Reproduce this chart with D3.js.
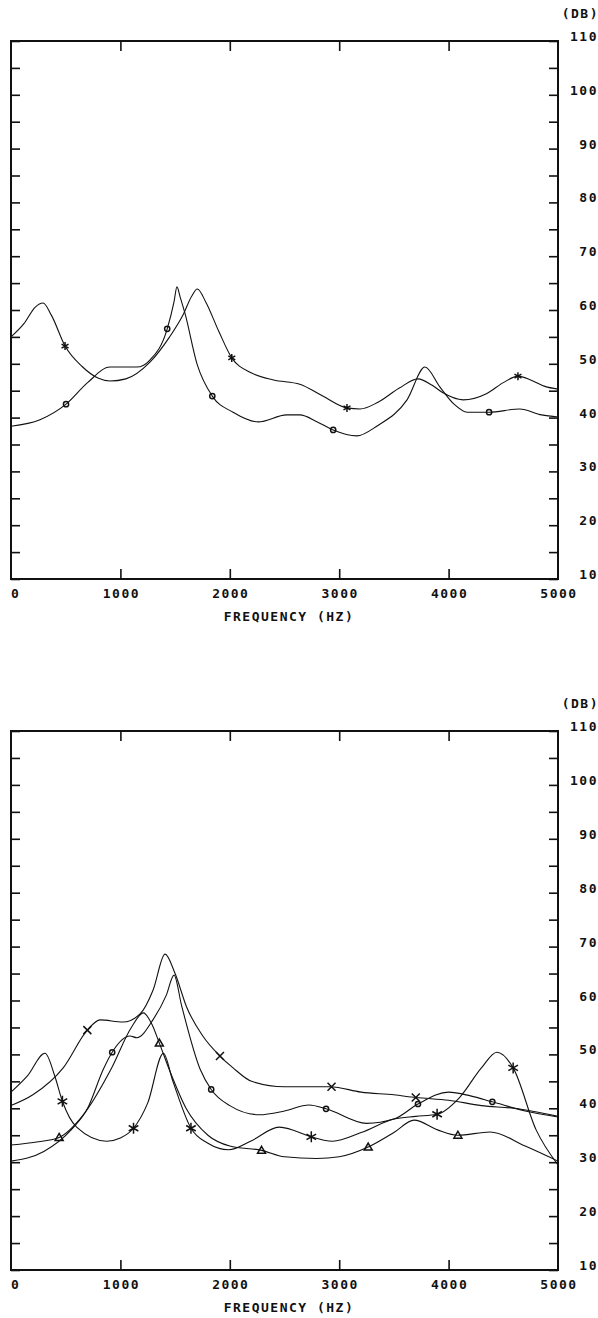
<!DOCTYPE html>
<html>
<head>
<meta charset="utf-8">
<script src="https://cdn.jsdelivr.net/npm/d3@7"></script>
<style>
  body { margin: 0; background: #fff; }
  .lbl { font-family: "DejaVu Sans Mono", monospace; font-weight: bold; font-size: 13px; letter-spacing: 1.5px; fill: #111; }
  .curve { fill: none; stroke: #111; stroke-width: 1.1; }
  .mark { fill: none; stroke: #111; stroke-width: 1.5; }
</style>
</head>
<body>
<div id="chart"></div>
<script>
// axis values
var freqTicks = [0, 1000, 2000, 3000, 4000, 5000];
var dbLabels = [10, 20, 30, 40, 50, 60, 70, 80, 90, 100, 110];

// top panel curves  [frequency, dB]
var topStar = [[0,55],[120,57.5],[220,60.5],[293,61.3],[370,59],[494,53.3],[650,49.5],[800,47.3],[905,46.8],
  [1050,47.2],[1270,50.3],[1450,55],[1573,59.1],[1650,62.5],[1703,63.9],[1780,61.5],[1900,56],[2018,51.1],
  [2200,48.3],[2400,47],[2640,46.2],[2850,44],[3071,41.8],[3190,41.6],[3350,42.8],[3550,45.5],[3720,47.2],
  [3850,46],[3949,44.6],[4132,43.3],[4350,44.5],[4500,46.5],[4634,47.7],[4750,47],[4880,45.8],[5000,45.3]];
var topStarMarks = [[494,53.3],[2018,51.1],[3071,41.8],[4634,47.7]];

var topCircle = [[0,38.4],[265,39.6],[503,42.5],[700,46.5],[905,49.4],[1150,49.4],[1270,50.7],[1428,56.5],
  [1490,61.5],[1517,64.3],[1545,62.5],[1590,59.4],[1700,50],[1840,44],[2030,41],[2260,39.2],[2520,40.5],
  [2640,40.5],[2800,39.2],[2945,37.7],[3160,36.6],[3350,38.5],[3620,43.3],[3784,49.4],[3920,45.7],[4050,42.5],
  [4170,41],[4370,41],[4650,41.6],[4850,40.5],[5000,40.1]];
var topCircleMarks = [[503,42.5],[1428,56.5],[1840,44],[2945,37.7],[4370,41]];

// bottom panel curves
var botCross = [[0,40.5],[200,42.5],[477,47.5],[698,54.5],[814,56.4],[1024,56],[1180,57.5],[1300,62],[1408,68.6],
  [1500,65],[1605,58.8],[1750,53.5],[1910,49.7],[2030,47.5],[2200,45],[2500,44],[2920,44],[3200,43],[3500,42.5],
  [3700,42],[4000,41.5],[4300,40.5],[4600,40],[5000,38.5]];
var botCrossMarks = [[698,54.5],[1910,49.7],[2930,44],[3700,42]];

var botCircle = [[0,30.2],[300,32],[550,36],[700,40],[845,47.3],[925,50.4],[1088,53.4],[1150,53.1],[1300,56.5],
  [1420,61],[1490,64.7],[1560,59],[1728,47.3],[1830,43.5],[2000,40.5],[2270,38.8],[2500,39.5],[2725,40.6],
  [2880,39.9],[3250,37.2],[3500,38],[3720,40.8],[4000,43],[4200,42.3],[4400,41.2],[4700,39.5],[5000,38.4]];
var botCircleMarks = [[925,50.4],[1830,43.5],[2880,39.9],[3720,40.8],[4400,41.2]];

var botTri = [[0,33.2],[250,33.8],[440,34.6],[650,38.5],[915,47.3],[1100,55],[1210,57.7],[1290,55.5],[1356,52.1],
  [1450,47],[1600,40],[1800,35],[2000,33],[2290,32.2],[2500,31],[2795,30.7],[3000,31],[3265,32.8],[3500,35.5],
  [3685,37.8],[3900,36],[4085,35],[4380,35.6],[4700,33],[5000,30.2]];
var botTriMarks = [[440,34.6],[1356,52.1],[2290,32.2],[3265,32.8],[4085,35]];

var botStar = [[0,43],[150,46],[311,50.2],[400,46],[470,41.3],[600,36.5],[875,33.9],[1000,34.5],[1120,36.3],
  [1250,41],[1393,50.2],[1480,45],[1645,36.3],[1800,33.5],[1990,32.3],[2200,34],[2450,36.5],[2600,35.8],
  [2745,34.7],[2940,33.9],[3200,35.5],[3500,38],[3700,38.5],[3895,38.9],[4100,42],[4300,47.5],[4442,50.4],
  [4590,47.5],[4800,36],[5000,29.5]];
var botStarMarks = [[470,41.3],[1120,36.3],[1645,36.3],[2745,34.7],[3895,38.9],[4590,47.5]];

var svg = d3.select("#chart").append("svg")
    .attr("width", 598)
    .attr("height", 1318);

// marker shapes
function drawMark(g, type, cx, cy) {
    if (type == "circle") {
        g.append("circle").attr("class", "mark").attr("cx", cx).attr("cy", cy).attr("r", 2.6);
    } else if (type == "tri") {
        var s = 4;
        g.append("path").attr("class", "mark")
            .attr("d", `M${cx},${cy - s} L${cx + s},${cy + s * 0.75} L${cx - s},${cy + s * 0.75} Z`);
    } else if (type == "cross") {
        var c = 4;
        g.append("path").attr("class", "mark")
            .attr("d", `M${cx - c},${cy - c} L${cx + c},${cy + c} M${cx - c},${cy + c} L${cx + c},${cy - c}`);
    } else {
        var r = type == "bigstar" ? 5.5 : 4;
        var a = r * 0.87, b = r * 0.5;
        g.append("path").attr("class", "mark")
            .attr("d", `M${cx},${cy - r} L${cx},${cy + r} M${cx - a},${cy - b} L${cx + a},${cy + b} M${cx - a},${cy + b} L${cx + a},${cy - b}`);
    }
}

function drawPanel(top, bottom, series) {
    var left = 11, right = 558;
    var x = d3.scaleLinear().domain([0, 5000]).range([left, right]);
    var y = d3.scaleLinear().domain([10, 110]).range([bottom, top]);
    var g = svg.append("g");

    var minorTicks = d3.range(10, 111, 5);

    // inward ticks
    g.append("g").attr("transform", `translate(${left},0)`)
        .call(d3.axisRight(y).tickValues(minorTicks).tickSize(9).tickFormat(""));
    g.append("g").attr("transform", `translate(${right},0)`)
        .call(d3.axisLeft(y).tickValues(minorTicks).tickSize(9).tickFormat(""));
    g.append("g").attr("transform", `translate(0,${top})`)
        .call(d3.axisBottom(x).tickValues([1000, 2000, 3000, 4000]).tickSize(10).tickFormat(""));
    g.append("g").attr("transform", `translate(0,${bottom})`)
        .call(d3.axisTop(x).tickValues([1000, 2000, 3000, 4000]).tickSize(10).tickFormat(""));
    g.selectAll(".domain").remove();
    g.selectAll(".tick line").attr("stroke", "#111").attr("stroke-width", 1.6);

    // frame
    g.append("rect")
        .attr("x", left).attr("y", top)
        .attr("width", right - left).attr("height", bottom - top)
        .attr("fill", "none").attr("stroke", "#111").attr("stroke-width", 2);

    // labels
    g.selectAll(".ylab").data(dbLabels).enter().append("text")
        .attr("class", "lbl")
        .attr("x", 598)
        .attr("y", d => y(d))
        .attr("text-anchor", "end")
        .text(d => d);
    g.append("text").attr("class", "lbl")
        .attr("x", 599).attr("y", top - 23.5)
        .attr("text-anchor", "end")
        .text("(DB)");
    g.selectAll(".xlab").data(freqTicks).enter().append("text")
        .attr("class", "lbl")
        .attr("x", d => d == 0 ? left : x(d) + 1)
        .attr("y", bottom + 18.5)
        .attr("text-anchor", d => d == 0 ? "start" : "middle")
        .text(d => d);
    g.append("text").attr("class", "lbl")
        .attr("x", 289).attr("y", bottom + 42)
        .attr("text-anchor", "middle")
        .text("FREQUENCY (HZ)");

    var line = d3.line()
        .x(d => x(d[0]))
        .y(d => y(d[1]))
        .curve(d3.curveMonotoneX);

    series.forEach(function(s) {
        g.append("path").attr("class", "curve").attr("d", line(s.data));
        s.marks.forEach(function(m) {
            drawMark(g, s.type, x(m[0]), y(m[1]));
        });
    });
}

drawPanel(41, 579, [
    {data: topStar, marks: topStarMarks, type: "star"},
    {data: topCircle, marks: topCircleMarks, type: "circle"}
]);

drawPanel(731, 1270, [
    {data: botCross, marks: botCrossMarks, type: "cross"},
    {data: botCircle, marks: botCircleMarks, type: "circle"},
    {data: botTri, marks: botTriMarks, type: "tri"},
    {data: botStar, marks: botStarMarks, type: "bigstar"}
]);
</script>
</body>
</html>
